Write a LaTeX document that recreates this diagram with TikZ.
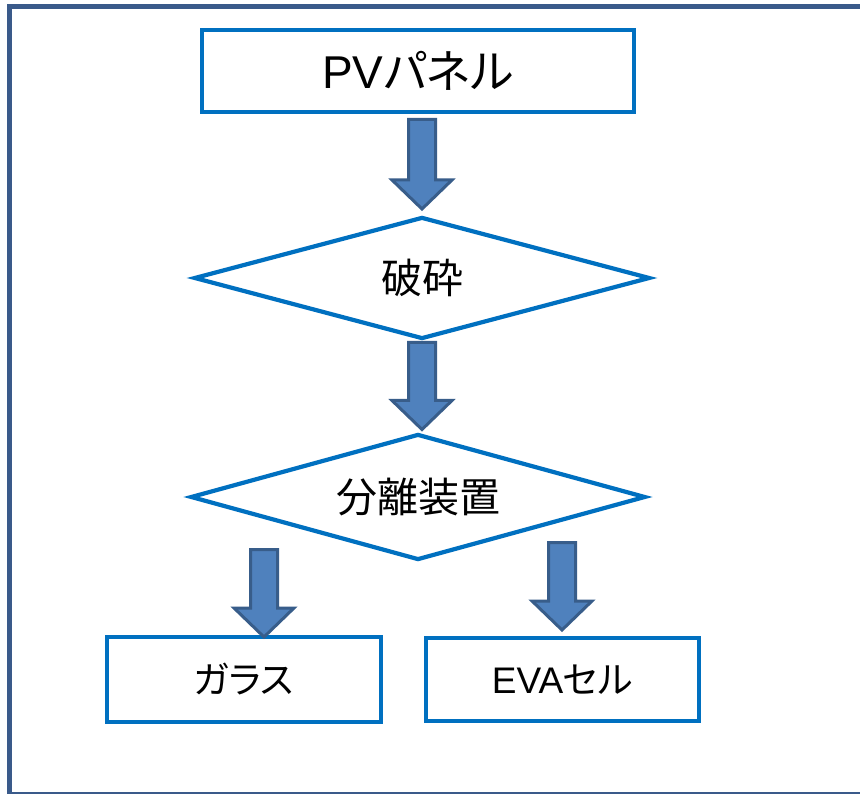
\documentclass[tikz,border=0pt]{standalone}
\usepackage{fontspec}
\newfontfamily\jp[RawFeature=+palt]{Noto Sans CJK JP}
\newfontfamily\lat{Liberation Sans}
\usetikzlibrary{shapes.geometric,calc}
\definecolor{boxblue}{HTML}{0070C0}
\definecolor{arrfill}{HTML}{4F81BD}
\definecolor{arrline}{HTML}{385D8A}
\definecolor{framec}{HTML}{3A5A8A}
\tikzset{
  box/.style={draw=boxblue, line width=4.2pt, rectangle, inner sep=0pt, fill=white, text=black},
  dia/.style={draw=boxblue, line width=4.2pt, diamond, aspect=3.6, inner sep=0pt, fill=white, text=black, font=\jp\fontsize{41}{41}\selectfont},
  blockarr/.style={draw=arrline, fill=arrfill, line width=3pt, line join=miter},
  bigtxt/.style={font=\jp\fontsize{46}{46}\selectfont},
  smalltxt/.style={font=\jp\fontsize{37}{37}\selectfont}
}
\newcommand\blockarrow[2]{%
  \draw[blockarr] let \p1=(#1), \p2=(#2) in
    (\x2-13.5pt,\y1) -- (\x2+13.5pt,\y1) -- (\x2+13.5pt,\y2+29pt) -- (\x2+30pt,\y2+29pt)
    -- (\x2,\y2) -- (\x2-30pt,\y2+29pt) -- (\x2-13.5pt,\y2+29pt) -- cycle;}
\begin{document}
\begin{tikzpicture}[x=1pt,y=-1pt]
\useasboundingbox (0,0) rectangle (860,794);
\fill[white] (0,0) rectangle (860,794);
% frame
\draw[framec, line width=5pt] (9,794) -- (9,6.5) -- (860,6.5);
\draw[framec, line width=1.5pt] (9,793) -- (860,793);
% nodes
\node[box, bigtxt, minimum width=432pt, minimum height=82pt] (pv) at (418,71) {{\lat PV}パネル};
\node[dia, minimum width=456pt, minimum height=122pt] (crush) at (422,278) {破砕};
\node[dia, minimum width=455pt, minimum height=126pt] (sep) at (418,497) {分離装置};
\node[box, smalltxt, minimum width=274pt, minimum height=85pt] (glass) at (244,679.5) {ガラス};
\node[box, smalltxt, minimum width=273pt, minimum height=83pt] (eva) at (562.5,679.5) {{\lat EVA}セル};
% arrow end points
\coordinate (a1s) at (422,119.5);
\coordinate (a1t) at (422,209);
\coordinate (a2s) at (422,342.5);
\coordinate (a2t) at (422,429.5);
\coordinate (a3s) at (264,549.5);
\coordinate (a3t) at (264,637);
\coordinate (a4s) at (562,542.5);
\coordinate (a4t) at (562,630);
\blockarrow{a1s}{a1t}
\blockarrow{a2s}{a2t}
\blockarrow{a3s}{a3t}
\blockarrow{a4s}{a4t}
\end{tikzpicture}
\end{document}
